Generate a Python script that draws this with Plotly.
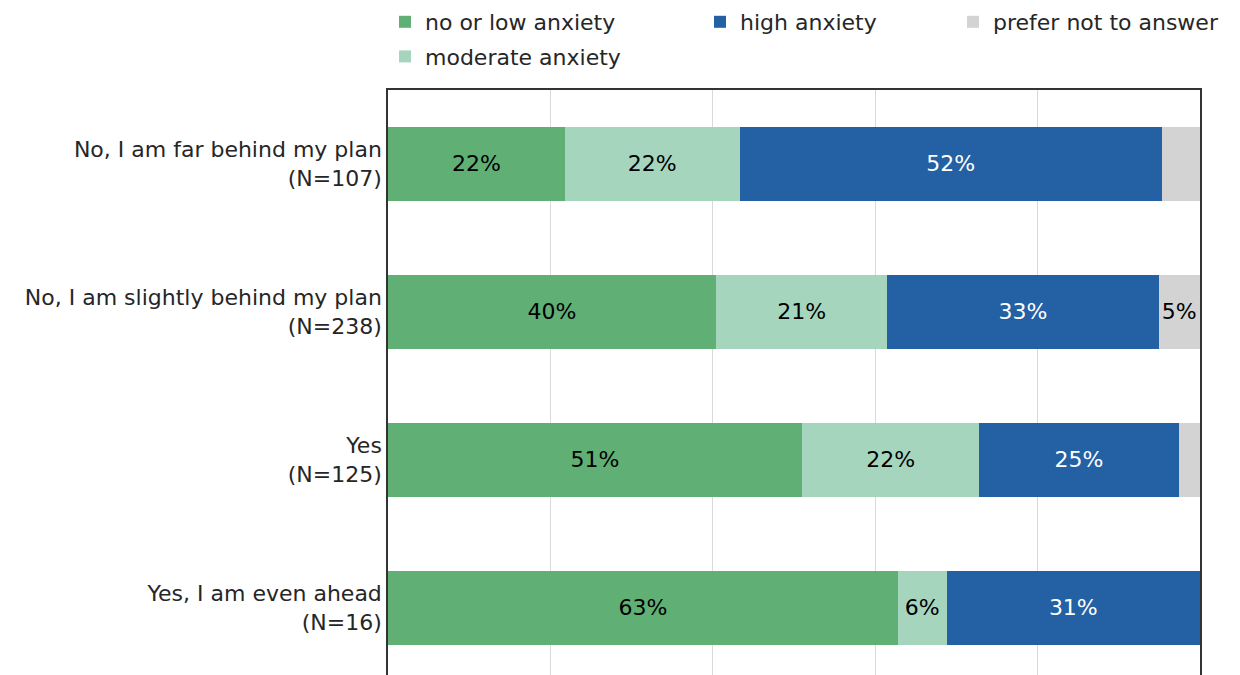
import plotly.graph_objects as go

# rows, top to bottom
categorias = [
    "No, I am far behind my plan<br>(N=107)",
    "No, I am slightly behind my plan<br>(N=238)",
    "Yes<br>(N=125)",
    "Yes, I am even ahead<br>(N=16)",
]

# shares in percent
baixa = [21.8, 40.4, 51.0, 62.8]
moderada = [21.5, 21.1, 21.8, 6.0]
alta = [52.0, 33.4, 24.6, 31.2]
sem_resposta = [4.7, 5.1, 2.6, 0.0]

series = [
    ("no or low anxiety", baixa, "#60af75", "#000000", "legend"),
    ("moderate anxiety", moderada, "#a6d5be", "#000000", "legend"),
    ("high anxiety", alta, "#2460a4", "#ffffff", "legend2"),
    ("prefer not to answer", sem_resposta, "#d3d3d3", "#000000", "legend3"),
]

posicoes = list(range(len(categorias)))

fig = go.Figure()
for nome, valores, cor, cor_texto, leg in series:
    # only label segments that are at least 5%
    textos = [f"{v:.0f}%" if v >= 5 else "" for v in valores]
    fig.add_trace(go.Bar(
        y=posicoes, x=valores, name=nome, orientation="h",
        width=0.5, marker=dict(color=cor, line=dict(width=0)),
        text=textos, textposition="inside", insidetextanchor="middle",
        textangle=0, constraintext="none",
        textfont=dict(color=cor_texto, size=22, family="DejaVu Sans"),
        legend=leg, legendgroup=nome, hoverinfo="skip",
    ))

# the page body adds 8px around the figure, so positions are shifted back by 8
fonte_leg = dict(size=22, color="#262626", family="DejaVu Sans")
topo_leg = 1 + (82 + 7) / 593  # paper coords, a little above the figure top
fig.update_layout(
    width=1240, height=675,
    barmode="stack",
    plot_bgcolor="white", paper_bgcolor="white",
    margin=dict(l=380, r=48, t=82, b=0, autoexpand=False),
    font=dict(family="DejaVu Sans", size=22, color="#262626"),
    legend=dict(xref="container", yref="paper", x=377 / 1240, y=topo_leg,
                xanchor="left", yanchor="top", font=fonte_leg, tracegroupgap=3,
                traceorder="grouped", bgcolor="rgba(0,0,0,0)"),
    legend2=dict(xref="container", yref="paper", x=692 / 1240, y=topo_leg,
                 xanchor="left", yanchor="top", font=fonte_leg,
                 bgcolor="rgba(0,0,0,0)"),
    legend3=dict(xref="container", yref="paper", x=945 / 1240, y=topo_leg,
                 xanchor="left", yanchor="top", font=fonte_leg,
                 bgcolor="rgba(0,0,0,0)"),
)
fig.update_xaxes(
    range=[0, 100], tickvals=[0, 20, 40, 60, 80, 100], showticklabels=False,
    showgrid=True, gridcolor="#d9d9d9", gridwidth=1, zeroline=False,
    side="top", showline=True, linecolor="#333333", linewidth=1.5,
)
fig.update_yaxes(
    range=[3.507, -0.5], tickvals=posicoes, ticktext=categorias,
    showgrid=False, zeroline=False, showline=True, mirror=True,
    linecolor="#333333", linewidth=1.5, ticks="",
    tickfont=dict(size=22, color="#262626"),
)

fig.write_html("out.html")
